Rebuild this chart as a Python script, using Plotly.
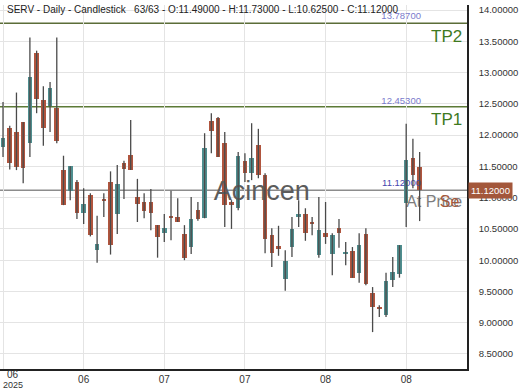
import plotly.graph_objects as go

# ---- data ----
opens  = [11.81, 12.12, 12.05, 12.21, 11.88, 13.32, 12.56, 12.47, 12.44, 11.44,
          11.11, 11.25, 10.76, 11.05, 10.16, 10.97, 11.25, 10.74, 11.55, 11.68,
          11.01, 10.93, 10.93, 10.56, 10.43, 10.70, 10.69, 10.42, 10.21, 10.80,
          10.67, 12.23, 12.27, 11.87, 10.93, 10.83, 11.59, 11.39, 11.84, 11.36,
          10.40, 10.21, 9.70, 10.21, 10.69, 10.74, 10.60, 10.08, 10.43, 10.10,
          10.51, 10.10, 10.15, 9.80, 10.42, 9.48, 9.24, 9.12, 9.68, 9.78,
          10.91, 11.63, 11.49]
highs  = [12.53, 12.15, 12.68, 12.21, 13.56, 13.35, 12.78, 12.85, 13.56, 11.67,
          11.50, 11.28, 11.15, 11.07, 10.71, 11.07, 11.42, 11.52, 11.59, 12.24,
          11.30, 11.07, 11.14, 10.56, 10.74, 11.11, 10.99, 10.56, 11.01, 10.93,
          12.03, 12.35, 12.29, 12.05, 10.96, 11.73, 11.71, 12.19, 12.10, 11.39,
          10.51, 10.55, 10.16, 10.69, 10.96, 10.83, 10.69, 11.01, 10.93, 10.43,
          10.66, 10.29, 10.21, 10.43, 10.51, 9.57, 9.28, 9.80, 10.05, 10.24,
          12.18, 11.94, 11.73]
lows   = [11.65, 11.45, 11.44, 11.23, 11.65, 12.35, 11.83, 12.05, 11.87, 10.88,
          10.96, 10.66, 10.58, 10.38, 9.96, 10.69, 10.09, 10.42, 10.98, 11.44,
          10.61, 10.67, 10.48, 10.04, 10.29, 10.32, 10.61, 10.00, 10.10, 10.63,
          10.67, 11.71, 11.65, 10.53, 10.50, 10.80, 11.25, 11.28, 11.31, 10.11,
          9.89, 10.07, 9.51, 10.05, 10.53, 10.31, 10.40, 10.04, 10.26, 9.76,
          10.20, 9.92, 9.72, 9.64, 9.60, 8.85, 9.09, 9.09, 9.57, 9.72,
          10.53, 11.15, 10.625]
closes = [11.95, 11.56, 11.49, 11.47, 12.93, 12.57, 12.11, 12.75, 11.91, 10.88,
          11.50, 10.76, 10.90, 10.40, 10.26, 10.95, 10.24, 11.22, 11.46, 11.44,
          10.90, 10.79, 10.76, 10.37, 10.51, 10.68, 10.61, 10.03, 10.66, 10.66,
          11.79, 12.07, 11.65, 10.88, 10.88, 11.67, 11.39, 11.63, 11.36, 10.34,
          10.11, 10.19, 9.99, 10.50, 10.74, 10.43, 10.58, 10.48, 10.37, 10.40,
          10.43, 10.12, 9.72, 10.24, 9.62, 9.25, 9.22, 9.67, 9.81, 10.24,
          11.60, 11.36, 11.12]

tick_index  = [0, 12, 24, 36, 48, 60]
tick_labels = ["", "06", "07", "07", "08", "08"]
first_tick_month = "06"
first_tick_year = "2025"
y_ticks = [8.5, 9.0, 9.5, 10.0, 10.5, 11.0, 11.5, 12.0, 12.5, 13.0, 13.5, 14.0]

tp2_level = 13.787
tp1_level = 12.453
last_price = 11.12
title_text = ("SERV - Daily - Candlestick&nbsp;&nbsp;&nbsp;63/63 - O:11.49000 - "
              "H:11.73000 - L:10.62500 - C:11.12000")
watermark_text = "Acincen"

# ---- styling ----
UP = "#4f8e8f"
DOWN = "#b0553e"
WICK = "#4a4a4a"
FONT = "Liberation Sans, Arial, sans-serif"

n = len(opens)
idx = list(range(n))

fig = go.Figure()

# text that sits underneath the candles
fig.add_trace(go.Scatter(
    x=[62.2, 62.2], y=[tp2_level + 0.10, tp1_level + 0.09],
    mode="text", text=[f"{tp2_level:.5f}", f"{tp1_level:.5f}"],
    textposition="middle left",
    textfont=dict(family=FONT, size=9.5, color="#7b7bcc"),
    hoverinfo="skip", showlegend=False))
fig.add_trace(go.Scatter(
    x=[62.2], y=[last_price + 0.10],
    mode="text", text=[f"{last_price:.5f}"],
    textposition="middle left",
    textfont=dict(family=FONT, size=9.5, color="#4646ad"),
    hoverinfo="skip", showlegend=False))
fig.add_trace(go.Scatter(
    x=[38.5], y=[last_price - 0.05],
    mode="text", text=[watermark_text],
    textposition="middle center",
    textfont=dict(family=FONT, size=27, color="#5c5c5c"),
    hoverinfo="skip", showlegend=False))
fig.add_trace(go.Scatter(
    x=[60.0], y=[last_price - 0.21],
    mode="text", text=["At Price"],
    textposition="middle right",
    textfont=dict(family=FONT, size=16, color="#7d7d7d"),
    hoverinfo="skip", showlegend=False))
fig.add_trace(go.Scatter(
    x=[65.0], y=[last_price - 0.21],
    mode="text", text=["Se"],
    textposition="middle right",
    textfont=dict(family=FONT, size=16, color="#a5583c"),
    hoverinfo="skip", showlegend=False))

# wicks
wx, wy = [], []
for i in idx:
    wx += [i, i, None]
    wy += [lows[i], highs[i], None]
fig.add_trace(go.Scatter(x=wx, y=wy, mode="lines",
                         line=dict(color=WICK, width=1.3),
                         hoverinfo="skip", showlegend=False))

# bodies
base = [min(o, c) for o, c in zip(opens, closes)]
height = [max(abs(c - o), 0.03) for o, c in zip(opens, closes)]
colors = [UP if c > o else DOWN for o, c in zip(opens, closes)]
fig.add_trace(go.Bar(x=idx, y=height, base=base, width=0.68,
                     marker=dict(color=colors, line=dict(width=0)),
                     hoverinfo="skip", showlegend=False))

# horizontal level lines
fig.add_shape(type="line", xref="paper", x0=0, x1=1, yref="y",
              y0=tp2_level, y1=tp2_level, layer="below",
              line=dict(color="#5b6d38", width=1.5))
fig.add_shape(type="line", xref="paper", x0=0, x1=1, yref="y",
              y0=tp1_level, y1=tp1_level, layer="below",
              line=dict(color="#5c7a36", width=1.5))
fig.add_shape(type="line", xref="paper", x0=0, x1=1, yref="y",
              y0=last_price, y1=last_price, layer="below",
              line=dict(color="#8c8c8c", width=1.5))

# annotations on top
fig.add_annotation(text="TP2", xref="paper", x=446 / 467, xanchor="center",
                   yref="y", y=tp2_level - 0.21, showarrow=False,
                   font=dict(family=FONT, size=17, color="#3f7a1f"))
fig.add_annotation(text="TP1", xref="paper", x=446 / 467, xanchor="center",
                   yref="y", y=tp1_level - 0.21, showarrow=False,
                   font=dict(family=FONT, size=17, color="#3f7a1f"))
fig.add_annotation(text=f"{last_price:.5f}", xref="paper", x=1, xanchor="left",
                   xshift=1, yref="y", y=last_price, showarrow=False,
                   bgcolor="#a3573b", borderpad=2,
                   font=dict(family=FONT, size=9.5, color="#ffffff"))
fig.add_annotation(text=title_text, xref="paper", x=5 / 467, xanchor="left",
                   yref="paper", y=(369 - 10) / 364, yanchor="middle",
                   showarrow=False,
                   font=dict(family=FONT, size=10, color="#222222"))
fig.add_annotation(text=first_tick_month, xref="paper", x=13 / 467,
                   xanchor="center", yref="paper", y=0, yanchor="middle",
                   yshift=-5, showarrow=False, borderpad=0,
                   font=dict(family=FONT, size=10, color="#333333"))
fig.add_annotation(text=first_tick_year, xref="paper", x=13 / 467,
                   xanchor="center", yref="paper", y=0, yanchor="middle",
                   yshift=-16, showarrow=False, borderpad=0,
                   font=dict(family=FONT, size=9, color="#333333"))

fig.update_layout(
    width=520, height=390,
    margin=dict(l=0, r=53, t=5, b=21),
    paper_bgcolor="white", plot_bgcolor="white",
    font=dict(family=FONT, size=10, color="#333333"),
    showlegend=False, bargap=0,
    xaxis=dict(range=[-0.45, 69.05], tickmode="array", tickvals=tick_index,
               ticktext=tick_labels, showgrid=True, gridcolor="#e4e4e4",
               gridwidth=1, zeroline=False, showline=True, linecolor="#222222",
               linewidth=1.5, ticks="", tickfont=dict(size=10, color="#333333"),
               fixedrange=True),
    yaxis=dict(side="right", range=[8.26, 14.08], tickmode="array",
               tickvals=y_ticks, ticktext=[f"{v:.5f}" for v in y_ticks],
               showgrid=True, gridcolor="#e4e4e4", gridwidth=1, zeroline=False,
               showline=True, linecolor="#222222", linewidth=1.5, ticks="",
               ticklabelstandoff=8, tickfont=dict(size=9.5, color="#333333"),
               fixedrange=True),
)

fig.write_html("out.html",
               config={"displayModeBar": False},
               post_script="document.body.style.margin='0';"
                           "document.body.style.padding='0';")
